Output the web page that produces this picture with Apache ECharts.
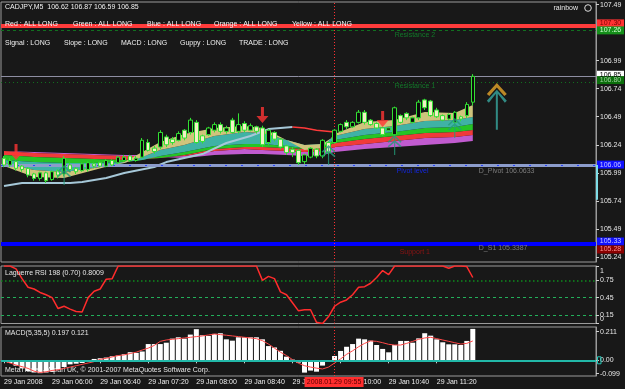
<!DOCTYPE html>
<html><head><meta charset="utf-8">
<script src="https://cdn.jsdelivr.net/npm/echarts@6/dist/echarts.min.js"></script>
<style>html,body{margin:0;padding:0;background:#181818;}#c{width:625px;height:389px;}</style>
</head><body><div id="c"></div>
<script>
// ---------------- DATA ----------------
const timeCats = ['05:20','05:25','05:30','05:35','05:40','05:45','05:50','05:55',
'06:00','06:05','06:10','06:15','06:20','06:25','06:30','06:35','06:40','06:45','06:50','06:55',
'07:00','07:05','07:10','07:15','07:20','07:25','07:30','07:35','07:40','07:45','07:50','07:55',
'08:00','08:05','08:10','08:15','08:20','08:25','08:30','08:35','08:40','08:45','08:50','08:55',
'09:00','09:05','09:10','09:15','09:20','09:25','09:30','09:35','09:40','09:45','09:50','09:55',
'10:00','10:05','10:10','10:15','10:20','10:25','10:30','10:35','10:40','10:45','10:50','10:55',
'11:00','11:05','11:10','11:15','11:20','11:25','11:30','11:35','11:40','11:45','11:50'];
const futureSlots = 20;

const opens = [106.12,106.06,106.09,106.05,106.03,105.98,105.94,105.99,105.93,106.01,
105.98,106.06,106.03,106.01,106.02,106.07,106.08,106.05,106.10,106.08,
106.10,106.14,106.10,106.13,106.26,106.21,106.22,106.31,106.29,106.28,
106.37,106.35,106.44,106.32,106.33,106.37,106.42,106.36,106.46,106.36,
106.43,106.37,106.40,106.39,106.26,106.35,106.29,106.23,106.20,106.19,
106.09,106.13,106.20,106.14,106.26,106.26,106.36,106.44,106.40,106.44,
106.53,106.46,106.43,106.39,106.37,106.33,106.50,106.52,106.44,106.48,
106.64,106.63,106.55,106.50,106.47,106.44,106.49,106.50,106.62];
const closes = [106.06,106.10,106.03,106.02,105.97,105.94,105.99,105.92,106.00,105.97,
106.12,106.02,106.00,106.07,106.08,106.05,106.05,106.10,106.06,106.13,
106.13,106.10,106.12,106.28,106.19,106.18,106.35,106.24,106.26,106.34,
106.30,106.46,106.26,106.27,106.39,106.42,106.36,106.39,106.35,106.42,
106.37,106.41,106.36,106.24,106.37,106.29,106.22,106.17,106.17,106.08,
106.15,106.21,106.14,106.28,106.17,106.37,106.42,106.40,106.44,106.53,
106.44,106.42,106.39,106.33,106.39,106.57,106.44,106.48,106.48,106.62,
106.57,106.50,106.49,106.46,106.51,106.53,106.47,106.60,106.85];
const lows = [106.04,106.04,106.01,106.00,105.95,105.92,105.92,105.90,105.92,105.94,
105.96,106.00,105.98,106.00,106.00,106.03,106.04,106.04,106.05,106.07,
106.09,106.09,106.09,106.12,106.18,106.16,106.20,106.22,106.24,106.27,
106.28,106.33,106.25,106.25,106.32,106.35,106.34,106.34,106.34,106.34,
106.35,106.36,106.34,106.22,106.24,106.27,106.20,106.15,106.13,106.06,
106.07,106.12,106.12,106.12,106.15,106.25,106.35,106.38,106.39,106.43,
106.42,106.41,106.38,106.32,106.36,106.32,106.43,106.46,106.43,106.46,
106.55,106.49,106.48,106.45,106.46,106.43,106.45,106.48,106.59];
const highs = [106.14,106.12,106.10,106.06,106.04,105.99,106.00,106.00,106.01,106.02,
106.14,106.08,106.04,106.08,106.09,106.08,106.09,106.11,106.11,106.14,
106.15,106.15,106.14,106.30,106.29,106.23,106.37,106.33,106.31,106.36,
106.38,106.48,106.46,106.33,106.40,106.44,106.44,106.41,106.48,106.52,
106.45,106.43,106.41,106.41,106.38,106.36,106.30,106.24,106.22,106.20,
106.16,106.22,106.21,106.29,106.27,106.38,106.43,106.46,106.45,106.55,
106.55,106.47,106.44,106.40,106.40,106.58,106.51,106.53,106.49,106.64,
106.65,106.64,106.57,106.51,106.52,106.54,106.50,106.62,106.87];

// rainbow moving-average fan (sampled at bar indices)
const bandIdx = [0,5,10,15,20,23,26,30,35,40,43,47,50,53,55,60,65,70,75,78];
const maFast = [106.051,105.953,105.944,106.015,106.086,106.175,106.264,106.336,106.389,106.407,106.389,106.282,106.193,106.211,106.336,106.443,106.461,106.532,106.523,106.594];
const maB1 = [106.077,106.015,105.997,106.033,106.077,106.131,106.193,106.238,106.318,106.354,106.345,106.282,106.238,106.247,106.318,106.380,106.407,106.452,106.461,106.487];
const maB2 = [106.104,106.086,106.077,106.077,106.086,106.104,106.140,106.175,106.229,106.247,106.247,106.229,106.211,106.229,106.282,106.327,106.354,106.389,106.398,106.425];
const maB3 = [106.149,106.131,106.122,106.113,106.104,106.113,106.122,106.149,106.202,106.220,106.220,106.211,106.202,106.211,106.256,106.291,106.318,106.345,106.354,106.371];
const maB4 = [106.184,106.166,106.158,106.149,106.140,106.140,106.131,106.140,106.184,106.202,106.193,106.184,106.175,106.184,106.220,106.247,106.273,106.300,106.309,106.327];
const maSlowest = [106.184,106.175,106.166,106.158,106.149,106.149,106.131,106.122,106.149,106.158,106.158,106.149,106.140,106.149,106.175,106.202,106.220,106.238,106.256,106.273];

// long MA line (rising part, then falling part)
const longMaUpIdx = [0,3,11,13,17,20,25,27,30,33,37,41,44,48];
const longMaUp = [105.872,105.899,105.899,105.908,105.944,105.988,106.042,106.086,106.122,106.157,106.256,106.318,106.380,106.398];
const longMaDownIdx = [48,50,52,55];
const longMaDown = [106.398,106.390,106.370,106.354];

// signals
const sellSignals = [[2,106.104],[43,106.434],[63,106.398]];
const buySignals = [[10,106.06],[54,106.238],[65,106.327],[75,106.478]];
const bigSignalIdx = 82;
const bigChevronPrice = 106.79;
const bigArrowPrice = 106.73;

// horizontal levels
const levelPrices = {red:107.30, res2:107.26, bid:106.85, res1:106.80, pivot:106.0633, s1:105.36};
const priceTickVals = [107.49,106.99,106.74,106.49,106.24,105.99,105.74,105.49,105.24];
const priceBoxes = [['107.30',107.30],['107.26',107.26],['106.85',106.85],['106.80',106.80],['106.06',106.0633],['105.33',105.36],['105.28',105.28]];
const rangeMarker = [106.06, 105.75];

// Laguerre RSI
const rsi = [1.0,1.0,0.95,0.78,0.63,0.60,0.54,0.50,0.45,0.26,
0.30,0.25,0.21,0.20,0.45,0.56,0.60,0.77,0.78,1.0,
1,1,1,1,1,1,1,1,1,1,
1,1,1,1,1,1,1,1,1,1,
1,1,1,0.75,0.82,0.78,0.55,0.50,0.36,0.22,
0.24,0.24,0.02,0.0,0.12,0.30,0.37,0.41,0.50,0.63,
0.64,0.70,0.80,0.92,0.85,1,1,1,1,1,
1,1,1,1,0.96,1,1,0.99,0.80];
const rsiLevels = [0.75,0.45,0.15];
const rsiTickVals = [1,0.75,0.45,0.15,0];
const rsiTickText = ['1','0.75','0.45','0.15','0'];

// MACD
const macd = [-0.01,-0.02,-0.04,-0.06,-0.08,-0.09,-0.095,-0.09,-0.085,-0.07,
-0.05,-0.03,-0.025,-0.02,-0.005,0.01,0.015,0.02,0.03,0.035,
0.045,0.06,0.055,0.065,0.12,0.12,0.12,0.13,0.16,0.17,
0.16,0.19,0.23,0.185,0.18,0.195,0.2,0.155,0.145,0.17,
0.17,0.17,0.17,0.155,0.105,0.095,0.07,0.027,0.005,-0.017,
-0.091,-0.076,-0.084,-0.039,-0.005,0.032,0.069,0.10,0.12,0.16,
0.155,0.145,0.113,0.084,0.059,0.113,0.143,0.143,0.130,0.162,
0.2,0.182,0.155,0.133,0.118,0.118,0.113,0.143,0.232];
const macdSignal = [-0.005,-0.02,-0.035,-0.047,-0.06,-0.08,-0.09,-0.085,-0.075,-0.07,
-0.06,-0.05,-0.04,-0.03,-0.02,-0.01,0.007,0.015,0.025,0.035,
0.04,0.05,0.06,0.076,0.09,0.11,0.14,0.15,0.155,0.16,
0.165,0.17,0.175,0.18,0.187,0.194,0.19,0.185,0.18,0.175,
0.17,0.165,0.16,0.145,0.12,0.09,0.06,0.035,0.005,-0.022,
-0.04,-0.05,-0.058,-0.064,-0.05,-0.02,0.01,0.044,0.07,0.1,
0.125,0.143,0.14,0.13,0.118,0.113,0.113,0.125,0.14,0.155,
0.165,0.17,0.16,0.15,0.14,0.13,0.12,0.125,0.143];
const macdTickVals = [0.211,0,-0.099];
const macdTickText = ['0.211','0.00','-0.099'];

const timeTickIdx = [0,8,16,24,32,40,48,56,64,72];
const timeTickText = ['29 Jan 2008','29 Jan 06:00','29 Jan 06:40','29 Jan 07:20','29 Jan 08:00','29 Jan 08:40','29 Jan 09:20','29 Jan 10:00','29 Jan 10:40','29 Jan 11:20'];
const cursorIdx = 55;
const cursorText = '2008.01.29 09:55';

const headerText = 'CADJPY,M5  106.62 106.87 106.59 106.85';
const groupStatus = [['Red : ALL LONG',0],['Green : ALL LONG',1],['Blue : ALL LONG',2],['Orange : ALL LONG',3],['Yellow : ALL LONG',4]];
const signalStatus = ['Signal : LONG','Slope : LONG','MACD : LONG','Guppy : LONG','TRADE : LONG'];
const rsiTitle = 'Laguerre RSI 198 (0.70) 0.8009';
const macdTitle = 'MACD(5,35,5) 0.197 0.121';
const copyright = 'MetaTrader - Alpari UK, \u00a9 2001-2007 MetaQuotes Software Corp.';

// ---------------- CHART ----------------
const axisData = timeCats.concat(Array.from({length: futureSlots}, (_, k) => '+' + k));
const ohlc = opens.map((o, i) => [o, closes[i], lows[i], highs[i]]);
const FONT = 'Liberation Sans';
const crossStyle = {color:'#ff3030', type:[1,2], width:1};

const chart = echarts.init(document.getElementById('c'), null, {renderer:'canvas'});

function band(upper, lower, color) {
  return {
    type:'custom', xAxisIndex:0, yAxisIndex:0, z:1, silent:true,
    data:[[0, upper[0]]],
    renderItem:(params, api) => {
      const pts = [];
      for (let k = 0; k < bandIdx.length; k++) pts.push(api.coord([bandIdx[k], upper[k]]));
      for (let k = bandIdx.length - 1; k >= 0; k--) pts.push(api.coord([bandIdx[k], lower[k]]));
      return {type:'polygon', shape:{points:pts}, style:{fill:color}};
    }
  };
}

const xAxisBase = (gi) => ({
  type:'category', gridIndex:gi, data:axisData, boundaryGap:true,
  axisLine:{show:false}, axisTick:{show:false}, axisLabel:{show:false}, splitLine:{show:false}
});
const tickSet = new Set(timeTickIdx);

const option = {
  animation:false,
  backgroundColor:'#181818',
  textStyle:{fontFamily:FONT},
  grid:[
    {left:1, width:595, top:2, height:260, show:true, borderColor:'#9a9a9a', borderWidth:1},
    {left:1, width:595, top:266, height:57.5, show:true, borderColor:'#9a9a9a', borderWidth:1},
    {left:1, width:595, top:327, height:49, show:true, borderColor:'#9a9a9a', borderWidth:1}
  ],
  xAxis:[
    xAxisBase(0), xAxisBase(1),
    Object.assign(xAxisBase(2), {
      axisLine:{show:true, lineStyle:{color:'#9a9a9a'}},
      axisTick:{show:true, alignWithLabel:true, length:3, interval:(i) => tickSet.has(i), lineStyle:{color:'#cfcfcf'}},
      axisLabel:{show:true, interval:(i) => tickSet.has(i), align:'left', margin:3,
        color:'#eeeeee', fontSize:7, fontFamily:FONT,
        formatter:(v, i) => { const k = timeTickIdx.indexOf(i); return k >= 0 ? timeTickText[k] : ''; }}
    })
  ],
  yAxis:[
    {type:'value', gridIndex:0, position:'right', min:105.195, max:107.513, splitLine:{show:false},
      axisLine:{show:true, lineStyle:{color:'#9a9a9a'}},
      axisTick:{show:true, length:3, customValues:priceTickVals, lineStyle:{color:'#cfcfcf'}},
      axisLabel:{customValues:priceTickVals, formatter:(v) => v.toFixed(2), color:'#e8e8e8', fontSize:7, fontFamily:FONT, margin:4}},
    {type:'value', gridIndex:1, position:'right', min:0, max:1, splitLine:{show:false},
      axisLine:{show:true, lineStyle:{color:'#9a9a9a'}},
      axisTick:{show:true, length:3, customValues:rsiTickVals, lineStyle:{color:'#cfcfcf'}},
      axisLabel:{customValues:rsiTickVals.slice(0, 4), color:'#e8e8e8', fontSize:7, fontFamily:FONT, margin:4,
        formatter:(v) => { const t = rsiTickText[rsiTickVals.indexOf(v)]; return v === 1 ? '{a|' + t + '}' : t; },
        rich:{a:{padding:[10,0,0,0], fontSize:7, color:'#e8e8e8', fontFamily:FONT}}}},
    {type:'value', gridIndex:2, position:'right', min:-0.116, max:0.246, splitLine:{show:false},
      axisLine:{show:true, lineStyle:{color:'#9a9a9a'}},
      axisTick:{show:true, length:3, customValues:macdTickVals, lineStyle:{color:'#cfcfcf'}},
      axisLabel:{customValues:macdTickVals, color:'#e8e8e8', fontSize:7, fontFamily:FONT, margin:4,
        formatter:(v) => macdTickText[macdTickVals.indexOf(v)]}}
  ],
  series:[
    band(maB4, maSlowest, '#c15bcf'),
    band(maB3, maB4, '#f03a3a'),
    band(maB2, maB3, '#26c426'),
    band(maB1, maB2, '#3fb2a5'),
    band(maFast, maB1, '#cfc47c'),
    {type:'line', xAxisIndex:0, yAxisIndex:0, z:4, symbol:'none', silent:true,
      data:longMaUpIdx.map((x, k) => [x, longMaUp[k]]), lineStyle:{color:'#a6c8d8', width:2},
      markLine:{symbol:'none', silent:true, label:{show:false}, data:[
        {yAxis:levelPrices.red, lineStyle:{color:'#ff3b3b', width:4, type:'solid'}},
        {yAxis:levelPrices.res2, lineStyle:{color:'#11701f', width:1, type:[3,3]}},
        {yAxis:levelPrices.bid, lineStyle:{color:'#8e8ea2', width:1, type:'solid'}},
        {yAxis:levelPrices.res1, lineStyle:{color:'#11701f', width:1, type:[1,3]}},
        {yAxis:levelPrices.pivot, lineStyle:{color:'#8c9ccb', width:3, type:'solid'}},
        {yAxis:levelPrices.pivot, lineStyle:{color:'#2a44ff', width:1, type:[2,14]}},
        {yAxis:levelPrices.s1, lineStyle:{color:'#0000ff', width:4, type:'solid'}},
        {xAxis:axisData[cursorIdx], lineStyle:crossStyle}
      ]}},
    {type:'line', xAxisIndex:0, yAxisIndex:0, z:4, symbol:'none', silent:true,
      data:longMaDownIdx.map((x, k) => [x, longMaDown[k]]), lineStyle:{color:'#ff3a3a', width:1.5}},
    {type:'candlestick', xAxisIndex:0, yAxisIndex:0, z:10, barWidth:4, data:ohlc, silent:true,
      itemStyle:{color:'#0b0b0b', color0:'#f3f1c6', borderColor:'#33e033', borderColor0:'#33e033', borderWidth:1}},
    {type:'scatter', xAxisIndex:0, yAxisIndex:0, z:12, silent:true, data:sellSignals,
      symbol:'path://M4.5,0 L7.5,0 L7.5,9 L12,9 L6,16 L0,9 L4.5,9 Z', symbolSize:[12,16], symbolOffset:[0,-8],
      itemStyle:{color:'#ff3434'}},
    {type:'scatter', xAxisIndex:0, yAxisIndex:0, z:12, silent:true, data:buySignals,
      symbol:'path://M6,0 L12,6 L11,7 L6.5,2.5 L6.5,5 L12,10 L11,11 L6.5,7 L6.5,18 L5.5,18 L5.5,7 L1,11 L0,10 L5.5,5 L5.5,2.5 L1,7 L0,6 Z',
      symbolSize:[14,20], symbolOffset:[0,10], itemStyle:{color:'#239c78'}},
    {type:'scatter', xAxisIndex:0, yAxisIndex:0, z:12, silent:true, data:[[bigSignalIdx, bigArrowPrice]],
      symbol:'path://M10,0 L20,11 L18,13 L11,4 L11,40 L9,40 L9,4 L2,13 L0,11 Z', symbolSize:[20,40], symbolOffset:[0,20],
      itemStyle:{color:'#38a9a0'}},
    {type:'scatter', xAxisIndex:0, yAxisIndex:0, z:12, silent:true, data:[[bigSignalIdx, bigChevronPrice]],
      symbol:'path://M10,0 L20,11 L17.5,13 L10,4.5 L2.5,13 L0,11 Z', symbolSize:[20,13], symbolOffset:[0,6.5],
      itemStyle:{color:'#e6a52a'}},
    {type:'line', xAxisIndex:1, yAxisIndex:1, z:5, symbol:'none', silent:true, data:rsi,
      lineStyle:{color:'#ff2c2c', width:1.5},
      markLine:{symbol:'none', silent:true, label:{show:false}, data:[
        {yAxis:rsiLevels[0], lineStyle:{color:'#0c8a1c', width:1.5, type:[1.5,2.5]}},
        {yAxis:rsiLevels[1], lineStyle:{color:'#22b05a', width:1, type:[3,3]}},
        {yAxis:rsiLevels[2], lineStyle:{color:'#22b05a', width:1, type:[3,3]}},
        {xAxis:axisData[cursorIdx], lineStyle:crossStyle}
      ]}},
    {type:'bar', xAxisIndex:2, yAxisIndex:2, z:2, silent:true, data:macd, barWidth:5, itemStyle:{color:'#ffffff'}},
    {type:'line', xAxisIndex:2, yAxisIndex:2, z:4, symbol:'none', silent:true, data:macdSignal,
      lineStyle:{color:'#ff4848', width:1},
      markLine:{symbol:'none', silent:true, label:{show:false}, data:[
        {yAxis:0, lineStyle:{color:'#22b8a8', width:2, type:'solid'}},
        {xAxis:axisData[cursorIdx], lineStyle:crossStyle}
      ]}}
  ]
};
chart.setOption(option);

// ---------------- overlay texts / boxes ----------------
const yPix = (gi, v) => chart.convertToPixel({yAxisIndex:gi}, v);
const xPix = (gi, i) => chart.convertToPixel({xAxisIndex:gi}, i);
const g = [];
function txt(x, y, s, color, z, align) {
  g.push({type:'text', x:x, y:y, z:z === undefined ? 100 : z, silent:true,
    style:{text:s, fill:color, font:'7px "' + FONT + '"', align:align || 'left', verticalAlign:'middle'}});
}
function box(cy, s, bg, fg) {
  g.push({type:'rect', z:100, silent:true, shape:{x:597, y:cy - 4, width:27, height:8}, style:{fill:bg}});
  txt(610.5, cy, s, fg, 101, 'center');
}
txt(5, 7, headerText, '#f2f2f2');
const groupX = [5, 73, 147, 214, 292];
groupStatus.forEach((gs) => txt(groupX[gs[1]], yPix(0, levelPrices.red) - 1.5, gs[0], '#f4f4f4'));
const sigX = [5, 64, 121, 180, 239];
signalStatus.forEach((s, k) => txt(sigX[k], 43, s, '#f0f0f0'));
txt(578, 8, 'rainbow', '#e8e8e8', 100, 'right');
g.push({type:'circle', z:100, silent:true, shape:{cx:588, cy:8, r:3.3}, style:{fill:'none', stroke:'#dddddd', lineWidth:1}});

const lblX = xPix(0, 64.5);
txt(lblX, yPix(0, levelPrices.res2) + 5, 'Resistance 2', '#13782a', 20);
txt(lblX, yPix(0, levelPrices.res1) + 4.5, 'Resistance 1', '#13782a', 20);
txt(lblX + 2, yPix(0, levelPrices.pivot) + 6, 'Pivot level', '#1428e0', 20);
txt(xPix(0, 78.5), yPix(0, levelPrices.pivot) + 6, 'D_Pivot 106.0633', '#7c7c7c', 20);
txt(lblX + 5, yPix(0, levelPrices.s1) + 9, 'Support 1', '#8c1414', 20);
txt(xPix(0, 79), yPix(0, levelPrices.s1) + 5, 'D_S1 105.3387', '#7c7c7c', 20);

const boxStyle = [['#ff3232','#7a0000',-2.5],['#15901a','#d6ffd6',0],['#ffffff','#000000',-1.6],['#0b6f0b','#9fd09f',-1.9],['#1010ff','#c8c8ff',0],['#1010ff','#c8c8ff',-2],['#8a0000','#ff8c8c',-3]];
priceBoxes.forEach((b, k) => box(yPix(0, b[1]) + boxStyle[k][2], b[0], boxStyle[k][0], boxStyle[k][1]));
g.push({type:'line', z:100, silent:true, shape:{x1:597, y1:yPix(0, rangeMarker[0]), x2:597, y2:yPix(0, rangeMarker[1])}, style:{stroke:'#7fdde6', lineWidth:2}});

// RSI zero label (sits just above the panel bottom like the terminal draws it)
txt(600, yPix(1, rsiTickVals[4]) - 4, rsiTickText[4], '#e8e8e8', 100);

txt(5, 273, rsiTitle, '#e6e6e6');
txt(5, 333, macdTitle, '#e6e6e6');
txt(5, 370, copyright, '#e6e6e6', 0);
const z0 = yPix(2, 0);
g.push({type:'rect', z:100, silent:true, shape:{x:597.5, y:z0 - 3.5, width:3.5, height:7}, style:{fill:'none', stroke:'#20c8b8', lineWidth:1}});

const cx = xPix(2, cursorIdx);
g.push({type:'rect', z:100, silent:true, shape:{x:cx - 30, y:377, width:59, height:10}, style:{fill:'#ff2e2e'}});
txt(cx - 0.5, 382.5, cursorText, '#5a0000', 101, 'center');

chart.setOption({graphic:g});
</script></body></html>
